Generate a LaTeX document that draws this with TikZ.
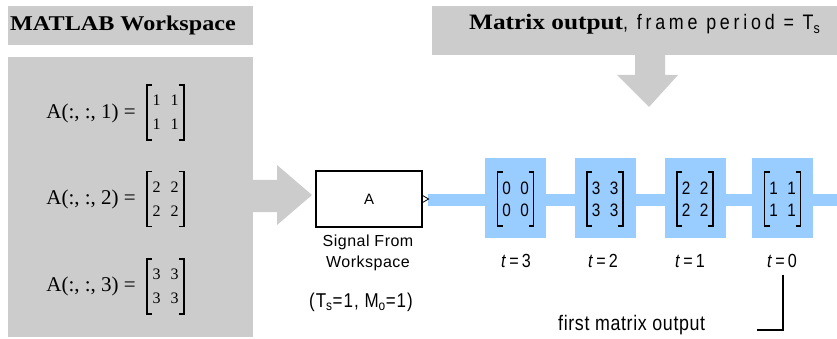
\documentclass[tikz,border=0pt]{standalone}
\usepackage{fontspec}
\setmainfont{Liberation Serif}
\newfontfamily\wideserif[FakeStretch=1.15]{Liberation Serif}
\newfontfamily\condsans[FakeStretch=0.85]{Liberation Sans}
\newfontfamily\blocksans{Liberation Sans}
\definecolor{panelgray}{HTML}{CCCCCC}
\definecolor{sigblue}{HTML}{99CCFF}
\tikzset{
  panel/.style={fill=panelgray, draw=none},
  framebox/.style={fill=sigblue, draw=none, minimum width=61pt, minimum height=80pt, inner sep=0pt},
  tlabel/.style={font=\condsans\addfontfeature{LetterSpace=16}\fontsize{19}{19}\selectfont, inner sep=0pt, anchor=base},
  wslabel/.style={font=\fontsize{21}{21}\selectfont, inner sep=0pt, anchor=east},
  serifdigit/.style={font=\fontsize{16}{16}\selectfont, inner sep=0pt},
  sansdigit/.style={font=\condsans\fontsize{18}{18}\selectfont, inner sep=0pt},
  bracket/.style={line width=1.1pt},
  blockstyle/.style={draw=black, line width=1.2pt, fill=white, minimum width=106pt, minimum height=56pt, inner sep=0pt, font=\blocksans\fontsize{15}{15}\selectfont},
}
% #1 name, #2 x, #3 y, #4 digit, #5 half width, #6 half height, #7 row offset, #8 digit style
\newcommand\drawmat[8]{%
  \begin{scope}[shift={(#2,#3)}]
    \draw[bracket] (-#5+5,-#6) -- (-#5,-#6) -- (-#5,#6) -- (-#5+5,#6);
    \draw[bracket] (#5-5,-#6) -- (#5,-#6) -- (#5,#6) -- (#5-5,#6);
    \node[#8] (#1a) at (-9,-#7) {#4};
    \node[#8] (#1b) at (9,-#7) {#4};
    \node[#8] (#1c) at (-9,#7) {#4};
    \node[#8] (#1d) at (9,#7) {#4};
  \end{scope}}
\begin{document}
\begin{tikzpicture}[x=1pt,y=-1pt]
\useasboundingbox (0,0) rectangle (837,339);
% MATLAB workspace title and panel
\path[panel] (8,6) rectangle (253,45);
\node[anchor=base west, inner sep=0pt, font=\wideserif\bfseries\fontsize{21}{21}\selectfont] (wstitle) at (10,31) {MATLAB Workspace};
\path[panel] (8,57) rectangle (253,337);
% right arrow
\path[panel] (253,180) -- (277,180) -- (277,165) -- (312,195) -- (277,225) -- (277,212) -- (253,212) -- cycle;
% workspace entries
\node[wslabel] (a1) at (136,113) {A(:, :, 1) =};
\drawmat{m1}{165.5}{112.5}{1}{18.5}{27.5}{12}{serifdigit}
\node[wslabel] (a2) at (136,199) {A(:, :, 2) =};
\drawmat{m2}{165.5}{199}{2}{18.5}{27.5}{12}{serifdigit}
\node[wslabel] (a3) at (136,286) {A(:, :, 3) =};
\drawmat{m3}{165.5}{286.5}{3}{18.5}{27.5}{12}{serifdigit}
% top title and down arrow
\path[panel] (432,6) rectangle (837,55);
\node[anchor=base west, inner sep=0pt] (toptitle) at (469,30) {{\wideserif\bfseries\fontsize{22}{22}\selectfont Matrix output}{\condsans\addfontfeature{LetterSpace=18}\fontsize{21}{21}\selectfont, frame period = T\textsubscript{s}}};
\path[panel] (635,55) -- (665,55) -- (665,75) -- (678,75) -- (649,107) -- (617,75) -- (635,75) -- cycle;
% signal line
\path[fill=sigblue] (428,194) rectangle (837,206);
% block
\node[blockstyle] (blk) at (369,199) {A};
\draw[line width=0.8pt] (blk.east) ++(0,-3.5) -- ++(6,3.5) -- ++(-6,3.5);
\node[font=\blocksans\addfontfeature{LetterSpace=3}\fontsize{16}{21}\selectfont, align=center, inner sep=0pt, anchor=north] (blklabel) at (368,235) {Signal From\\Workspace};
\node[font=\condsans\addfontfeature{LetterSpace=5}\fontsize{20}{20}\selectfont, inner sep=0pt, anchor=base] (params) at (361,307) {(T\textsubscript{s}=1, M\textsubscript{o}=1)};
% frames
\node[framebox] (f3) at (515.5,198) {};
\node[framebox] (f2) at (605,198) {};
\node[framebox] (f1) at (695,198) {};
\node[framebox] (f0) at (782.5,198) {};
\drawmat{n3}{515.5}{199}{0}{18}{27}{11}{sansdigit}
\drawmat{n2}{605}{199}{3}{18}{27}{11}{sansdigit}
\drawmat{n1}{695}{199}{2}{18}{27}{11}{sansdigit}
\drawmat{n0}{782.5}{199}{1}{18}{27}{11}{sansdigit}
\node[tlabel] (t3) at (516,267) {\textit{t}=3};
\node[tlabel] (t2) at (603,267) {\textit{t}=2};
\node[tlabel] (t1) at (690,267) {\textit{t}=1};
\node[tlabel] (t0) at (782,267) {\textit{t}=0};
% first matrix output
\node[inner sep=0pt, font=\condsans\addfontfeature{LetterSpace=3}\fontsize{21}{21}\selectfont, anchor=base west] (first) at (558,330) {first matrix output};
\coordinate (tick) at (783,275);
\coordinate (bend) at (783,330);
\coordinate (hend) at (757,330);
\draw[line width=1.1pt] (tick) -- (bend) -- (hend);
\end{tikzpicture}
\end{document}
